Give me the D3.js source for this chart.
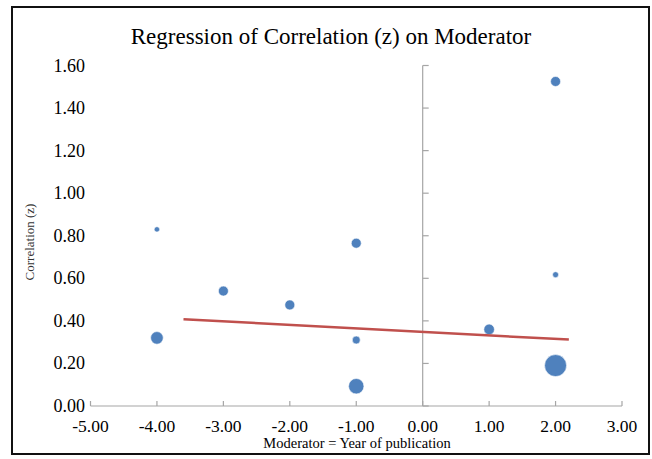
<!DOCTYPE html>
<html>
<head>
<meta charset="utf-8">
<script src="https://cdn.jsdelivr.net/npm/d3@7"></script>
<style>
  body { margin: 0; background: #fff; }
  text { font-family: "Liberation Serif", "Times New Roman", serif; fill: #000; }
</style>
</head>
<body>
<div id="viz"></div>
<script>
// data
var moderator = [-4, -4, -3, -2, -1, -1, -1, 1, 2, 2, 2];
var correlation = [0.83, 0.32, 0.54, 0.475, 0.765, 0.31, 0.093, 0.36, 1.525, 0.617, 0.19];
var weight = [2.7, 6.3, 5, 5, 5, 4, 7.7, 5.3, 5, 3, 11];   // bubble radius
var regLine = [[-3.6, 0.408], [2.2, 0.312]];
var xTicks = [-5, -4, -3, -2, -1, 0, 1, 2, 3];
var yTicks = [0, 0.2, 0.4, 0.6, 0.8, 1.0, 1.2, 1.4, 1.6];

var W = 652, H = 459;
var svg = d3.select("#viz").append("svg")
  .attr("width", W).attr("height", H);

// plain hyphen for negatives, like the original
var fmt = function(d) { return d3.format(".2f")(d).replace("\u2212", "-"); };

// outer frame
svg.append("rect")
  .attr("x", 12).attr("y", 7).attr("width", 637).attr("height", 447)
  .attr("fill", "#fff").attr("stroke", "#111").attr("stroke-width", 2);

var x = d3.scaleLinear().domain([-5, 3]).range([90.5, 622]);
var y = d3.scaleLinear().domain([0, 1.6]).range([406, 65.5]);

// title
svg.append("text")
  .attr("x", 331).attr("y", 44)
  .attr("text-anchor", "middle")
  .style("font-size", "23px")
  .text("Regression of Correlation (z) on Moderator");

// x axis line with ticks pointing up
var axisColor = "#a6a6a6";
svg.append("line")
  .attr("x1", x(-5)).attr("x2", x(3))
  .attr("y1", y(0)).attr("y2", y(0))
  .attr("stroke", axisColor).attr("stroke-width", 1.2);
svg.selectAll(".xt").data(xTicks).enter().append("line")
  .attr("x1", function(d) { return x(d); }).attr("x2", function(d) { return x(d); })
  .attr("y1", y(0)).attr("y2", y(0) - 5)
  .attr("stroke", axisColor).attr("stroke-width", 1.2);
svg.selectAll(".xl").data(xTicks).enter().append("text")
  .attr("x", function(d) { return x(d); })
  .attr("y", 431.5)
  .attr("text-anchor", "middle")
  .style("font-size", "17.5px")
  .text(fmt);

// y axis line at x = 0 with ticks pointing right
svg.append("line")
  .attr("x1", x(0)).attr("x2", x(0))
  .attr("y1", y(0)).attr("y2", y(1.6))
  .attr("stroke", axisColor).attr("stroke-width", 1.2);
svg.selectAll(".yt").data(yTicks).enter().append("line")
  .attr("x1", x(0)).attr("x2", x(0) + 6)
  .attr("y1", function(d) { return y(d); }).attr("y2", function(d) { return y(d); })
  .attr("stroke", axisColor).attr("stroke-width", 1.2);
// labels sit low, at the left
svg.selectAll(".yl").data(yTicks).enter().append("text")
  .attr("x", 85)
  .attr("y", function(d) { return y(d) + 6; })
  .attr("text-anchor", "end")
  .style("font-size", "18px")
  .text(fmt);

// axis titles
svg.append("text")
  .attr("transform", "translate(34,242) rotate(-90)")
  .attr("text-anchor", "middle")
  .style("font-size", "13px")
  .style("fill", "#333")
  .text("Correlation (z)");
svg.append("text")
  .attr("x", 357).attr("y", 448)
  .attr("text-anchor", "middle")
  .style("font-size", "14.5px")
  .text("Moderator = Year of publication");

// bubbles
var pts = moderator.map(function(m, i) {
  return { x: m, y: correlation[i], r: weight[i] };
});
svg.selectAll(".dot").data(pts).enter().append("circle")
  .attr("cx", function(d) { return x(d.x); })
  .attr("cy", function(d) { return y(d.y); })
  .attr("r", function(d) { return d.r; })
  .attr("fill", "#4f81bd")
  .attr("stroke", "#fff").attr("stroke-width", 0.6);

// regression line
svg.append("path").datum(regLine)
  .attr("fill", "none")
  .attr("stroke", "#c0504d")
  .attr("stroke-width", 2.5)
  .attr("d", d3.line()
    .x(function(d) { return x(d[0]); })
    .y(function(d) { return y(d[1]); }));
</script>
</body>
</html>
